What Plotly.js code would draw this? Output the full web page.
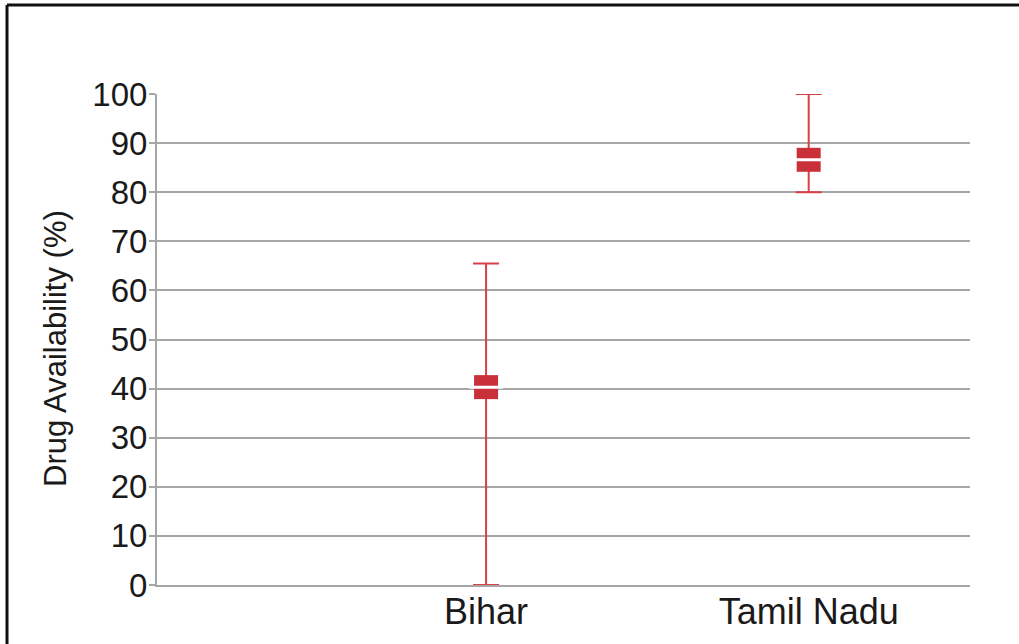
<!DOCTYPE html>
<html>
<head>
<meta charset="utf-8">
<script src="https://cdn.plot.ly/plotly-3.0.1.min.js"></script>
<style>html,body{margin:0;padding:0;background:#fff;}#chart{width:1019px;height:644px;}</style>
</head>
<body>
<div id="chart"></div>
<script>
const categories = ['Bihar', 'Tamil Nadu'];
const meanValues = [40.3, 86.6];
const upperValues = [65.5, 100];
const lowerValues = [0, 80];
const yTickValues = [0, 10, 20, 30, 40, 50, 60, 70, 80, 90, 100];
const yTitle = 'Drug Availability (%)';

const errPlus = meanValues.map((m, i) => upperValues[i] - m);
const errMinus = meanValues.map((m, i) => m - lowerValues[i]);

const red = '#c9303a';
const traces = [
  {
    type: 'scatter', mode: 'markers', x: categories, y: meanValues,
    marker: {symbol: 'square', size: 24, color: red},
    error_y: {type: 'data', symmetric: false, array: errPlus, arrayminus: errMinus,
      color: '#d8414a', thickness: 2, width: 13},
    hoverinfo: 'skip', showlegend: false
  },
  {
    type: 'scatter', mode: 'markers', x: categories, y: meanValues,
    marker: {symbol: 'line-ew', size: 24, color: '#ffffff', line: {color: '#ffffff', width: 3}},
    hoverinfo: 'skip', showlegend: false
  }
];

const layout = {
  width: 1019, height: 644,
  margin: {l: 157, r: 49, t: 94, b: 59},
  paper_bgcolor: '#ffffff', plot_bgcolor: '#ffffff',
  font: {family: 'Liberation Sans, Arial, sans-serif', color: '#1a1a1a'},
  showlegend: false,
  xaxis: {
    type: 'category', categoryorder: 'array', categoryarray: categories,
    range: [-1.02, 1.5], showgrid: false, zeroline: false,
    showline: true, linecolor: '#a6a6a6', linewidth: 2,
    ticks: '', ticklabelstandoff: -6,
    tickfont: {size: 36, color: '#1a1a1a'}, fixedrange: true
  },
  yaxis: {
    range: [0, 100], tickvals: yTickValues, ticktext: yTickValues.map(String),
    showgrid: true, gridcolor: '#a6a6a6', gridwidth: 2, zeroline: false,
    showline: true, linecolor: '#a6a6a6', linewidth: 2,
    ticks: 'outside', ticklen: 6, tickwidth: 2, tickcolor: '#a6a6a6',
    ticklabelstandoff: -5,
    tickfont: {size: 33, color: '#1a1a1a'},
    fixedrange: true
  },
  annotations: [
    {text: yTitle, xref: 'paper', yref: 'paper', x: -0.1242, y: 0.4807,
      xanchor: 'center', yanchor: 'middle', textangle: -90, showarrow: false,
      font: {size: 31, color: '#1a1a1a'}}
  ],
  shapes: [
    {type: 'line', xref: 'paper', yref: 'paper', x0: -0.1845, x1: 1.1, y0: 1.1812, y1: 1.1812,
      line: {color: '#111111', width: 3}},
    {type: 'line', xref: 'paper', yref: 'paper', x0: -0.1845, x1: -0.1845, y0: -0.2, y1: 1.1812,
      line: {color: '#111111', width: 3}}
  ]
};

Plotly.newPlot('chart', traces, layout, {displayModeBar: false, staticPlot: true});
</script>
</body>
</html>
